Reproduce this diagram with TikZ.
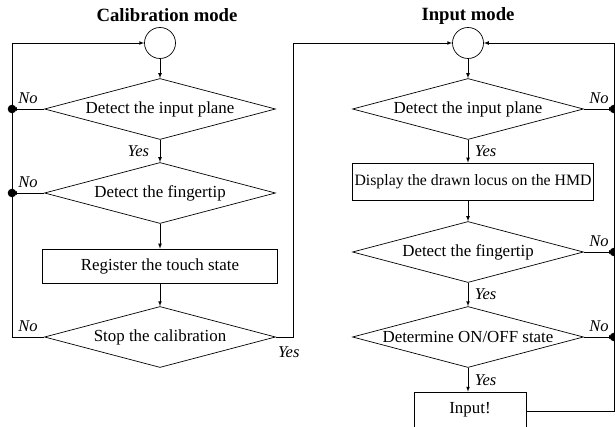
\documentclass[tikz,border=0pt]{standalone}
\usepackage{fontspec}
\setmainfont{Liberation Serif}
\usetikzlibrary{shapes.geometric,arrows}

\tikzset{
  test/.style={diamond, draw, aspect=3.79, minimum width=231pt,
    minimum height=61pt, inner sep=0pt},
  proc/.style={rectangle, draw, minimum height=34pt, inner sep=1pt},
  hub/.style={circle, draw, minimum size=31pt, inner sep=0pt},
  heading/.style={font=\fontsize{18.7}{22}\selectfont\bfseries},
  answer/.style={font=\fontsize{16.5}{19}\selectfont\itshape, inner sep=1.5pt},
  dot/.style={circle, fill, inner sep=0pt, minimum size=8.6pt}
}

\begin{document}
\begin{tikzpicture}[x=1pt,y=-1pt,>=latex,line width=0.7pt,
  font=\fontsize{16.9}{20}\selectfont]
\useasboundingbox (0,0) rectangle (615,427);

% calibration side
\node[heading] at (167,15) {Calibration mode};
\node[hub] (c1) at (160,43) {};
\node[test] (d1) at (160,109) {Detect the input plane};
\node[test] (d2) at (160,193) {Detect the fingertip};
\node[proc,minimum width=235pt] (r1) at (160,266) {Register the touch state};
\node[test] (d3) at (160,337) {Stop the calibration};

% input side
\node[heading] at (468,16) {Input mode};
\node[hub] (c2) at (468,43) {};
\node[test] (e1) at (468,109) {Detect the input plane};
\node[proc,minimum width=241pt,minimum height=37pt,
  font=\fontsize{15.8}{19}\selectfont] (r2) at (473,181.5)
  {Display the drawn locus on the HMD};
\node[test] (e2) at (468,252) {Detect the fingertip};
\node[test] (e3) at (468,337) {Determine ON/OFF state};
\node[proc,minimum width=112pt,minimum height=35pt] (r3) at (470,409.5) {Input!};

% junctions on the return lines
\coordinate (j1) at (12,109);
\coordinate (j2) at (12,193);
\coordinate (j3) at (12,337);
\coordinate (j4) at (12,43);
\coordinate (k1) at (293,337);
\coordinate (k2) at (293,43);
\coordinate (m1) at (614,109);
\coordinate (m2) at (614,252);
\coordinate (m3) at (614,337);
\coordinate (m4) at (614,411);
\coordinate (m5) at (614,43);
\foreach \p in {j1,j2,m1,m2,m3}
  \node[dot] at (\p) {};

\path[->]
(c1) edge (d1)
(d1) edge node[answer,left=9pt]{Yes} (d2)
(d2) edge (r1)
(r1) edge (d3)
(d1.west) edge node[answer,above=3pt]{No} (j1)
(d2.west) edge node[answer,above=3pt]{No} (j2)
(c2) edge (e1)
(e1) edge node[answer,right=5pt]{Yes} (e1 |- r2.north)
(e1 |- r2.south) edge (e2)
(e2) edge node[answer,right=5pt]{Yes} (e3)
(e3) edge node[answer,right=5pt]{Yes} (e3 |- r3.north)
(e1.east) edge node[answer,above=3pt]{No} (m1)
(e2.east) edge node[answer,above=3pt]{No} (m2)
(e3.east) edge node[answer,above=3pt]{No} (m3);

\draw[->] (d3.west) -- node[answer,above=3pt]{No} (j3) -- (j4) -- (c1.west);
\draw[->] (d3.east) -- node[answer,pos=0.75,below=8pt]{Yes} (k1) -- (k2) -- (c2.west);
\draw[->] (r3.east |- m4) -- (m4) -- (m5) -- (c2.east);
\end{tikzpicture}
\end{document}
